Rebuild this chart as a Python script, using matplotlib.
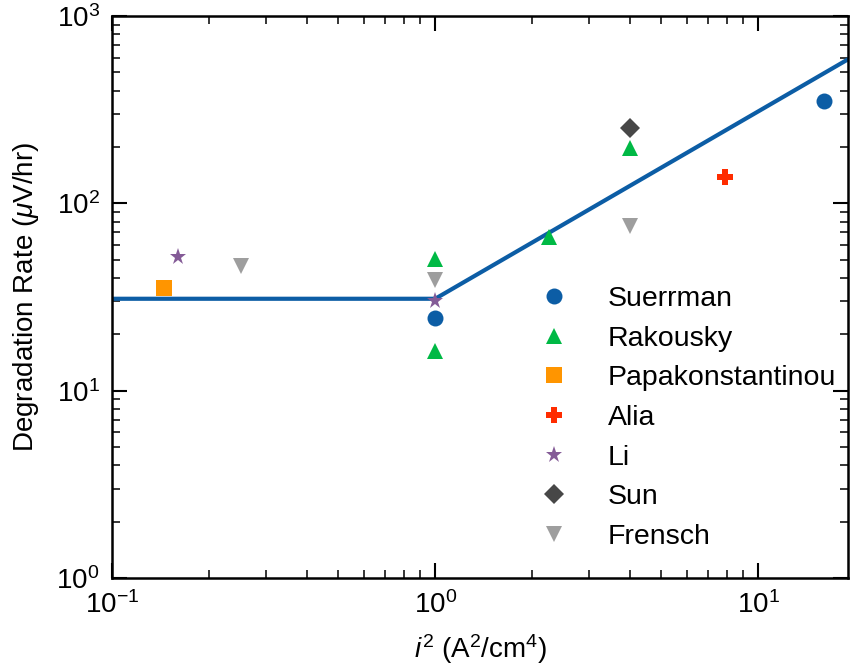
import numpy as np
import matplotlib.pyplot as plt

plt.rcParams['font.family'] = ['Liberation Sans', 'DejaVu Sans']
plt.rcParams['mathtext.fontset'] = 'custom'
plt.rcParams['mathtext.rm'] = 'Liberation Sans'
plt.rcParams['mathtext.it'] = 'Liberation Sans:italic'
plt.rcParams['mathtext.bf'] = 'Liberation Sans:bold'

# data (x = i^2 in A^2/cm^4, y = degradation rate in uV/hr)
suerrman_x = [1.0, 16.0]
suerrman_y = [24.4, 352]
rakousky_x = [1.0, 1.0, 2.25, 4.0]
rakousky_y = [50.5, 16.3, 66, 198]
papa_x = [0.145]
papa_y = [35.3]
alia_x = [7.9]
alia_y = [138]
li_x = [0.16, 1.0]
li_y = [51.7, 30.1]
sun_x = [4.0]
sun_y = [253]
frensch_x = [0.25, 1.0, 4.0]
frensch_y = [46.3, 39, 75.7]

fit_x = [0.1, 1.0, 20.0]
fit_y = [31, 31, 620]

series = [
    ('Suerrman', suerrman_x, suerrman_y, '#0C5DA5', 'o', 11.5),
    ('Rakousky', rakousky_x, rakousky_y, '#00B945', '^', 12),
    ('Papakonstantinou', papa_x, papa_y, '#FF9500', 's', 11),
    ('Alia', alia_x, alia_y, '#FF2C00', 'P', 11.5),
    ('Li', li_x, li_y, '#845B97', '*', 12.5),
    ('Sun', sun_x, sun_y, '#474747', 'D', 10.5),
    ('Frensch', frensch_x, frensch_y, '#9e9e9e', 'v', 12),
]

fig = plt.figure(figsize=(8.5, 6.7), dpi=100)
ax = fig.add_axes([0.132, 0.137, 0.866, 0.839])

ax.plot(fit_x, fit_y, color='#0C5DA5', lw=3, zorder=2)
for name, xs, ys, c, m, ms in series:
    ax.plot(xs, ys, ls='none', marker=m, color=c, markersize=ms,
            markeredgewidth=0, label=name, zorder=3)

ax.set_xscale('log')
ax.set_yscale('log')
ax.set_xlim(0.1, 19)
ax.set_ylim(1, 1000)

ax.set_xlabel(r'$i^2$ (A$^2$/cm$^4$)', fontsize=20, labelpad=10)
ax.set_ylabel(r'Degradation Rate ($\mu$V/hr)', fontsize=20, labelpad=11)

for s in ax.spines.values():
    s.set_linewidth(1.8)
ax.tick_params(which='both', direction='in', top=True, right=True, labelsize=20, pad=9)
ax.tick_params(which='major', length=11, width=1.5)
ax.tick_params(which='minor', length=5.5, width=1.1)

ax.legend(loc='upper left', bbox_to_anchor=(0.561, 0.545), frameon=False,
          fontsize=20.5, handletextpad=1.4, labelspacing=0.48, borderpad=0,
          handlelength=1.0, numpoints=1)

fig.savefig('out.png', dpi=100)
